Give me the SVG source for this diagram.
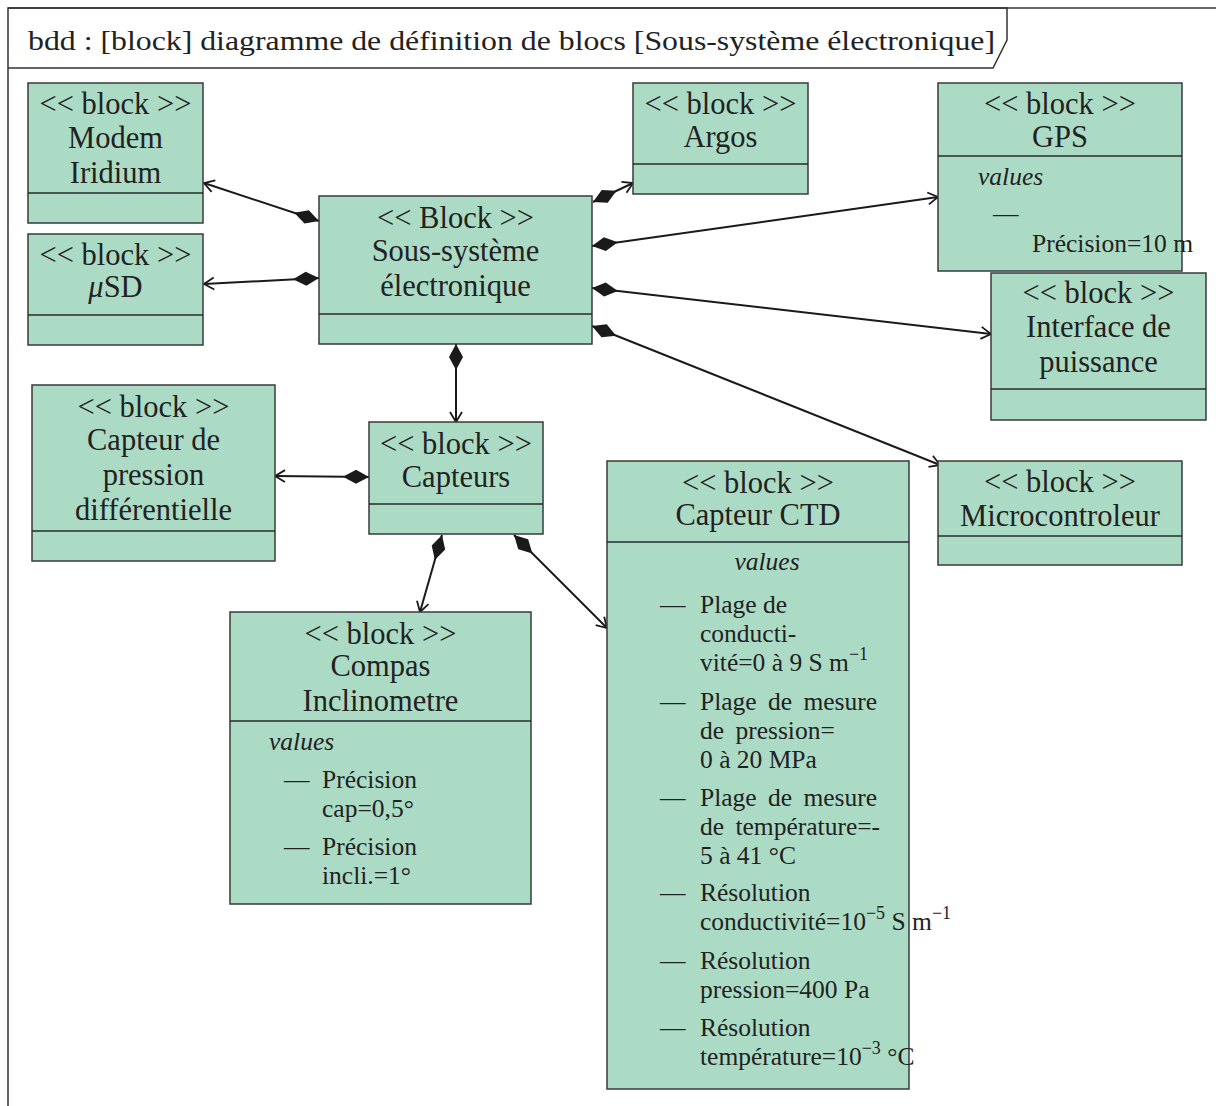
<svg xmlns="http://www.w3.org/2000/svg" width="1216" height="1106" viewBox="0 0 1216 1106">
<style>
.box{fill:#acdbc5;stroke:#3a3a3a;stroke-width:1.5}
.div{stroke:#2a2a2a;stroke-width:1.5}
.t{font-family:"Liberation Serif","DejaVu Serif",serif;font-size:30.5px;fill:#222;text-anchor:middle}
.b{font-family:"Liberation Serif","DejaVu Serif",serif;font-size:25.5px;fill:#222}
.i{font-style:italic}
.c{fill:none;stroke:#1a1a1a;stroke-width:2}
.frame{fill:none;stroke:#333;stroke-width:1.5}
.sup{font-size:18px}
</style>
<defs>
<marker id="dia" markerUnits="userSpaceOnUse" markerWidth="30" markerHeight="16" viewBox="-1 -8 30 16" refX="0" refY="0" orient="auto">
<path d="M0,0 L13,-7 L26,0 L13,7 Z" fill="#1a1a1a"/>
</marker>
<marker id="arr" markerUnits="userSpaceOnUse" markerWidth="16" markerHeight="16" viewBox="-12 -8 14 16" refX="0" refY="0" orient="auto">
<path d="M-10,-6 L0,0 L-10,6" fill="none" stroke="#1a1a1a" stroke-width="1.8"/>
</marker>
</defs>
<rect width="1216" height="1106" fill="#fff"/>
<g id="frame">
<path class="frame" d="M8,1106 V8 H1216"/>
<path class="frame" d="M8,8 H1007 V40 L993,68 H8"/>
<text x="28" y="50" class="b" style="font-size:28px" textLength="967" lengthAdjust="spacingAndGlyphs">bdd : [block] diagramme de définition de blocs [Sous-système électronique]</text>
</g>
<g id="connectors">
<line class="c" x1="319" y1="221" x2="204" y2="183" marker-start="url(#dia)" marker-end="url(#arr)"/>
<line class="c" x1="319" y1="278" x2="204" y2="284" marker-start="url(#dia)" marker-end="url(#arr)"/>
<line class="c" x1="593" y1="202" x2="633" y2="183" marker-start="url(#dia)" marker-end="url(#arr)"/>
<line class="c" x1="592" y1="246" x2="938" y2="197" marker-start="url(#dia)" marker-end="url(#arr)"/>
<line class="c" x1="592" y1="288" x2="991" y2="334" marker-start="url(#dia)" marker-end="url(#arr)"/>
<line class="c" x1="592" y1="326" x2="940" y2="465" marker-start="url(#dia)" marker-end="url(#arr)"/>
<line class="c" x1="456" y1="344" x2="456" y2="422" marker-start="url(#dia)" marker-end="url(#arr)"/>
<line class="c" x1="369" y1="477" x2="275" y2="476" marker-start="url(#dia)" marker-end="url(#arr)"/>
<line class="c" x1="442" y1="535" x2="420" y2="612" marker-start="url(#dia)" marker-end="url(#arr)"/>
<line class="c" x1="514" y1="535" x2="607" y2="628" marker-start="url(#dia)" marker-end="url(#arr)"/>
</g>
<g id="modem">
<rect class="box" x="28" y="83" width="175" height="140"/>
<line class="div" x1="28" y1="193" x2="203" y2="193"/>
<text class="t" x="115.5" y="114">&lt;&lt; block &gt;&gt;</text>
<text class="t" x="115.5" y="148">Modem</text>
<text class="t" x="115.5" y="183">Iridium</text>
</g>
<g id="usd">
<rect class="box" x="28" y="234" width="175" height="111"/>
<line class="div" x1="28" y1="315" x2="203" y2="315"/>
<text class="t" x="115.5" y="265">&lt;&lt; block &gt;&gt;</text>
<text class="t" x="115.5" y="297"><tspan class="i">μ</tspan>SD</text>
</g>
<g id="argos">
<rect class="box" x="633" y="83" width="175" height="111"/>
<line class="div" x1="633" y1="164" x2="808" y2="164"/>
<text class="t" x="720.5" y="114">&lt;&lt; block &gt;&gt;</text>
<text class="t" x="720.5" y="147">Argos</text>
</g>
<g id="gps">
<rect class="box" x="938" y="83" width="244" height="188"/>
<line class="div" x1="938" y1="156" x2="1182" y2="156"/>
<text class="t" x="1060" y="114">&lt;&lt; block &gt;&gt;</text>
<text class="t" x="1060" y="147">GPS</text>
<text class="b i" x="978" y="185">values</text>
<text class="b" x="993" y="222">—</text>
<text class="b" x="1032" y="252">Précision=10 m</text>
</g>
<g id="soussysteme">
<rect class="box" x="319" y="196" width="273" height="148"/>
<line class="div" x1="319" y1="314" x2="592" y2="314"/>
<text class="t" x="455.5" y="228">&lt;&lt; Block &gt;&gt;</text>
<text class="t" x="455.5" y="261">Sous-système</text>
<text class="t" x="455.5" y="296">électronique</text>
</g>
<g id="interface">
<rect class="box" x="991" y="273" width="215" height="147"/>
<line class="div" x1="991" y1="389" x2="1206" y2="389"/>
<text class="t" x="1098.5" y="303">&lt;&lt; block &gt;&gt;</text>
<text class="t" x="1098.5" y="337">Interface de</text>
<text class="t" x="1098.5" y="372">puissance</text>
</g>
<g id="pression">
<rect class="box" x="32" y="385" width="243" height="176"/>
<line class="div" x1="32" y1="531" x2="275" y2="531"/>
<text class="t" x="153.5" y="417">&lt;&lt; block &gt;&gt;</text>
<text class="t" x="153.5" y="450">Capteur de</text>
<text class="t" x="153.5" y="485">pression</text>
<text class="t" x="153.5" y="520">différentielle</text>
</g>
<g id="capteurs">
<rect class="box" x="369" y="422" width="174" height="112"/>
<line class="div" x1="369" y1="504" x2="543" y2="504"/>
<text class="t" x="456" y="454">&lt;&lt; block &gt;&gt;</text>
<text class="t" x="456" y="487">Capteurs</text>
</g>
<g id="micro">
<rect class="box" x="938" y="461" width="244" height="104"/>
<line class="div" x1="938" y1="536" x2="1182" y2="536"/>
<text class="t" x="1060" y="492">&lt;&lt; block &gt;&gt;</text>
<text class="t" x="1060" y="526">Microcontroleur</text>
</g>
<g id="ctd">
<rect class="box" x="607" y="461" width="302" height="628"/>
<line class="div" x1="607" y1="542" x2="909" y2="542"/>
<text class="t" x="758" y="493">&lt;&lt; block &gt;&gt;</text>
<text class="t" x="758" y="525">Capteur CTD</text>
<text class="b i" x="767" y="570" text-anchor="middle">values</text>
<text class="b" x="660" y="613">—</text>
<text class="b" x="700" y="613">Plage de</text>
<text class="b" x="700" y="642">conducti-</text>
<text class="b" x="700" y="671">vité=0 à 9 S m<tspan class="sup" dy="-11">−1</tspan></text>
<text class="b" x="660" y="710">—</text>
<text class="b" x="700" y="710" word-spacing="5">Plage de mesure</text>
<text class="b" x="700" y="739" word-spacing="5">de pression=</text>
<text class="b" x="700" y="768">0 à 20 MPa</text>
<text class="b" x="660" y="806">—</text>
<text class="b" x="700" y="806" word-spacing="5">Plage de mesure</text>
<text class="b" x="700" y="835" word-spacing="5">de température=-</text>
<text class="b" x="700" y="864">5 à 41 °C</text>
<text class="b" x="660" y="901">—</text>
<text class="b" x="700" y="901">Résolution</text>
<text class="b" x="700" y="930">conductivité=10<tspan class="sup" dy="-11">−5</tspan><tspan dy="11"> S m</tspan><tspan class="sup" dy="-11">−1</tspan></text>
<text class="b" x="660" y="969">—</text>
<text class="b" x="700" y="969">Résolution</text>
<text class="b" x="700" y="998">pression=400 Pa</text>
<text class="b" x="660" y="1036">—</text>
<text class="b" x="700" y="1036">Résolution</text>
<text class="b" x="700" y="1065">température=10<tspan class="sup" dy="-11">−3</tspan><tspan dy="11"> °C</tspan></text>
</g>
<g id="compas">
<rect class="box" x="230" y="612" width="301" height="292"/>
<line class="div" x1="230" y1="721" x2="531" y2="721"/>
<text class="t" x="380.5" y="644">&lt;&lt; block &gt;&gt;</text>
<text class="t" x="380.5" y="676">Compas</text>
<text class="t" x="380.5" y="711">Inclinometre</text>
<text class="b i" x="269" y="750">values</text>
<text class="b" x="284" y="788">—</text>
<text class="b" x="322" y="788">Précision</text>
<text class="b" x="322" y="817">cap=0,5°</text>
<text class="b" x="284" y="855">—</text>
<text class="b" x="322" y="855">Précision</text>
<text class="b" x="322" y="884">incli.=1°</text>
</g>
</svg>
